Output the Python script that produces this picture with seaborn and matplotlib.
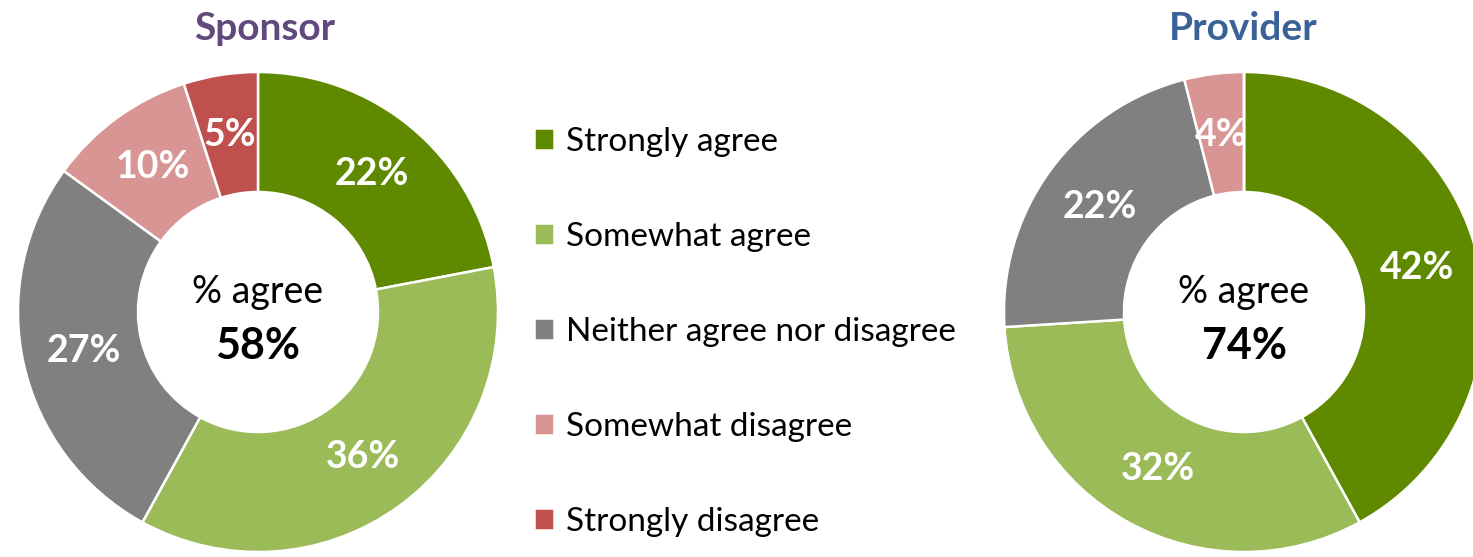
import numpy as np
import matplotlib
matplotlib.use("Agg")
import matplotlib.pyplot as plt
import seaborn as sns

CATEGORIES = ["Strongly agree", "Somewhat agree", "Neither agree nor disagree",
              "Somewhat disagree", "Strongly disagree"]
SPONSOR = [22, 36, 27, 10, 5]
PROVIDER = [42, 32, 22, 4, 0]
AGREE_SPONSOR = 58
AGREE_PROVIDER = 74
COLORS = ["#5F8A00", "#9BBB59", "#808080", "#D99594", "#C0504D"]

sns.set_style("white")
plt.rcParams["font.family"] = ["Lato", "DejaVu Sans"]
plt.rcParams["text.color"] = "black"

W, H = 1473, 557
fig = plt.figure(figsize=(W / 100, H / 100), dpi=100)


def donut(cx, cy, r, values, title, title_x, title_color, agree):
    ax = fig.add_axes([(cx - r) / W, (H - cy - r) / H, 2 * r / W, 2 * r / H])
    wedges, _ = ax.pie(values, colors=COLORS, startangle=90, counterclock=False,
                       radius=1, wedgeprops=dict(width=0.5, edgecolor="white", linewidth=1.8))
    for w, v in zip(wedges, values):
        if v == 0:
            continue
        ang = np.deg2rad((w.theta1 + w.theta2) / 2)
        ax.text(0.745 * np.cos(ang), 0.745 * np.sin(ang), f"{v}%", ha="center", va="center",
                color="white", fontsize=27, fontweight="bold")
    ax.text(0, 0.085, "% agree", ha="center", va="center", fontsize=27, color="black")
    ax.text(0, -0.14, f"{agree}%", ha="center", va="center", fontsize=31,
            fontweight="bold", color="black")
    ax.set_xlim(-1, 1)
    ax.set_ylim(-1, 1)
    ax.set_aspect("equal")
    ax.axis("off")
    fig.text(title_x / W, 1 - 28 / H, title, ha="center", va="center", fontsize=28,
             fontweight="bold", color=title_color)
    return wedges


wedges = donut(258, 312, 240, SPONSOR, "Sponsor", 265, "#604A7B", AGREE_SPONSOR)
donut(1244, 312, 240, PROVIDER, "Provider", 1243, "#3A6296", AGREE_PROVIDER)

fig.legend(wedges, CATEGORIES, loc="upper left", bbox_to_anchor=(517 / W, 1 - 110 / H),
           frameon=False, fontsize=24, handlelength=0.6, handleheight=0.6,
           handletextpad=0.38, labelspacing=1.95, borderpad=0, labelcolor="black")

fig.savefig("out.png", dpi=100)
